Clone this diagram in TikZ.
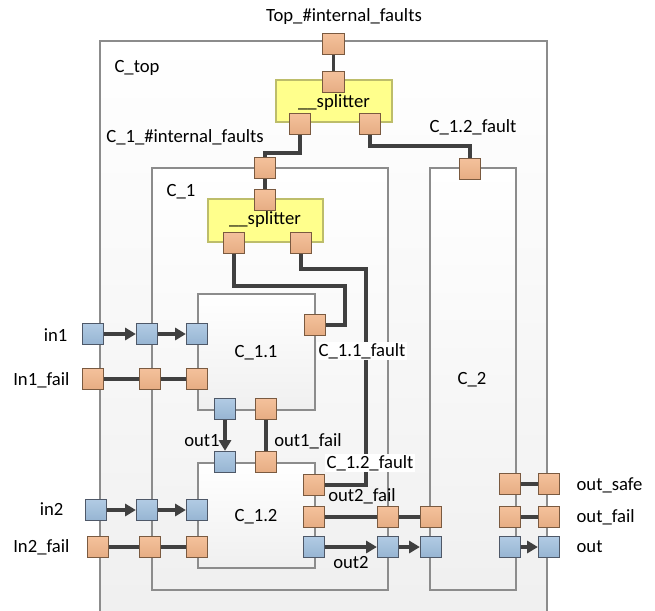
\documentclass[tikz,border=0pt]{standalone}
\usepackage{fontspec}
\setmainfont{Carlito}
\usetikzlibrary{arrows.meta,positioning,fit}
\definecolor{PortOrange}{HTML}{F2B68A}
\definecolor{PortOrangeDk}{HTML}{7A5A40}
\definecolor{PortBlue}{HTML}{9EBEDD}
\definecolor{PortBlueDk}{HTML}{4E5868}
\definecolor{SplitYellow}{HTML}{FFFF8C}
\definecolor{SplitEdge}{HTML}{BDBD6A}
\definecolor{WireGray}{HTML}{404040}
\definecolor{BoxEdge}{HTML}{8C8C8C}

\begin{document}
\begin{tikzpicture}[x=0.75pt, y=-0.75pt, font=\fontsize{14}{16}\selectfont,
  cbox/.style={draw=BoxEdge, line width=0.8pt, top color=white, bottom color=black!6, inner sep=0pt},
  splitbox/.style={draw=SplitEdge, line width=0.8pt, fill=SplitYellow, inner sep=0pt},
  oport/.style={draw=PortOrangeDk, line width=0.7pt, top color=PortOrange!85!white, bottom color=PortOrange!95!black, minimum size=16pt, inner sep=0pt},
  bport/.style={draw=PortBlueDk, line width=0.7pt, top color=PortBlue!80!white, bottom color=PortBlue!95!black, minimum size=16pt, inner sep=0pt},
  wire/.style={draw=WireGray, line width=2.7pt},
  flow/.style={wire, -{Triangle[length=8pt,width=9pt]}},
  lbl/.style={inner sep=1pt},
  wlbl/.style={inner sep=1pt, fill=white}]
\clip (0,0) rectangle (655,610);
\fill[white] (0,0) rectangle (655,610);

% components
\node[cbox, fit={(100,41) (547,615)}] (Ctop) {};
\node[splitbox, fit={(276,80) (392,122)}] (spl1) {};
\node[cbox, fit={(152,168) (388,590)}] (C1) {};
\node[cbox, fit={(430,168) (516,590)}] (C2) {};
\node[splitbox, fit={(208,199) (323,242)}] (spl2) {};
\node[cbox, fit={(198,294) (315,410)}] (C11) {};
\node[cbox, fit={(198,463) (315,568)}] (C12) {};

% fault ports
\node[oport] (topf) at (333.5,44) {};
\node[oport] (s1in) at (333.5,82) {};
\node[oport] (s1a) at (300,124) {};
\node[oport] (s1b) at (370,124) {};
\node[oport] (c1f) at (265,168) {};
\node[oport] (c2f) at (470,169) {};
\node[oport] (s2in) at (265,200) {};
\node[oport] (s2a) at (234,243) {};
\node[oport] (s2b) at (301,243) {};
\node[oport] (f11) at (315,325) {};
\node[oport] (f12) at (314,485) {};

% fail ports
\node[oport] (fail1) at (93,379) {};
\node[oport] (c1fail1) at (150,379) {};
\node[oport] (c11fail) at (197,379) {};
\node[oport] (c11ofail) at (266,409) {};
\node[oport] (c12ifail) at (266,462) {};
\node[oport] (fail2) at (98,547) {};
\node[oport] (c1fail2) at (150,547) {};
\node[oport] (c12fail2) at (197,547) {};
\node[oport] (c12ofail) at (314,517) {};
\node[oport] (c1ofail) at (388,517) {};
\node[oport] (c2ifail) at (431,517) {};
\node[oport] (c2safe) at (510,484) {};
\node[oport] (c2ofail) at (510,517) {};
\node[oport] (osafe) at (549,484) {};
\node[oport] (ofail) at (549,517) {};

% data ports
\node[bport] (in1) at (93,334) {};
\node[bport] (c1in1) at (147,334) {};
\node[bport] (c11in) at (197,334) {};
\node[bport] (c11out) at (225,409) {};
\node[bport] (c12in) at (225,462) {};
\node[bport] (in2) at (96,510) {};
\node[bport] (c1in2) at (147,510) {};
\node[bport] (c12in2) at (197,510) {};
\node[bport] (c12out) at (314,547) {};
\node[bport] (c1out) at (388,547) {};
\node[bport] (c2in) at (431,547) {};
\node[bport] (c2out) at (510,547) {};
\node[bport] (out) at (549,547) {};

% fault tree wiring
\coordinate (k1) at (345,286);
\coordinate (k2) at (366,269);
\draw[wire] (topf.south) -- (s1in.north);
\draw[wire] (s1a.south) -- ++(0,18) -| (c1f.north);
\draw[wire] (s1b.south) -- ++(0,11) -| (c2f.north);
\draw[wire] (c1f.south) -- (s2in.north);
\draw[wire] (s2a.south) |- (k1) |- (f11.east);
\draw[wire] (s2b.south) |- (k2) |- (f12.east);

% signal wiring
\draw[flow] (in1) -- (c1in1);
\draw[flow] (c1in1) -- (c11in);
\draw[wire] (fail1) -- (c1fail1);
\draw[wire] (c1fail1) -- (c11fail);
\draw[flow] (c11out) -- (c12in);
\draw[wire] (c11ofail) -- (c12ifail);
\draw[flow] (in2) -- (c1in2);
\draw[flow] (c1in2) -- (c12in2);
\draw[wire] (fail2) -- (c1fail2);
\draw[wire] (c1fail2) -- (c12fail2);
\draw[wire] (c12ofail) -- (c1ofail);
\draw[wire] (c1ofail) -- (c2ifail);
\draw[flow] (c12out) -- (c1out);
\draw[flow] (c1out) -- (c2in);
\draw[wire] (c2safe) -- (osafe);
\draw[wire] (c2ofail) -- (ofail);
\draw[flow] (c2out) -- (out);

% labels
\node[lbl] (ltop) at (344,17) {Top\_\#internal\_faults};
\node[lbl] (lctop) at (137,68) {C\_top};
\node[lbl] (lspl1) at (334,103) {\_\_splitter};
\node[lbl] (lc1f) at (185,137) {C\_1\_\#internal\_faults};
\node[lbl] (lc2f) at (473,127) {C\_1.2\_fault};
\node[lbl] (lc1) at (181,192) {C\_1};
\node[lbl] (lspl2) at (265,220) {\_\_splitter};
\node[lbl, anchor=east] (lin1) at (69,335) {in1};
\node[lbl, anchor=east] (lfail1) at (71,380) {In1\_fail};
\node[lbl] (lc11) at (256,353) {C\_1.1};
\node[wlbl] (lf11) at (362,351) {C\_1.1\_fault};
\node[lbl] (lout1) at (202,441) {out1};
\node[lbl] (lout1f) at (308,441) {out1\_fail};
\node[wlbl] (lf12) at (370,463) {C\_1.2\_fault};
\node[lbl] (lout2f) at (362,496) {out2\_fail};
\node[lbl, anchor=east] (lin2) at (65,509) {in2};
\node[lbl, anchor=east] (lfail2) at (71,547) {In2\_fail};
\node[lbl] (lc12) at (256,517) {C\_1.2};
\node[lbl] (lout2) at (351,563) {out2};
\node[lbl] (lc2) at (472,380) {C\_2};
\node[lbl, anchor=west] (lsafe) at (575,485) {out\_safe};
\node[lbl, anchor=west] (lofail) at (575,517) {out\_fail};
\node[lbl, anchor=west] (lout) at (575,547) {out};
\end{tikzpicture}
\end{document}
